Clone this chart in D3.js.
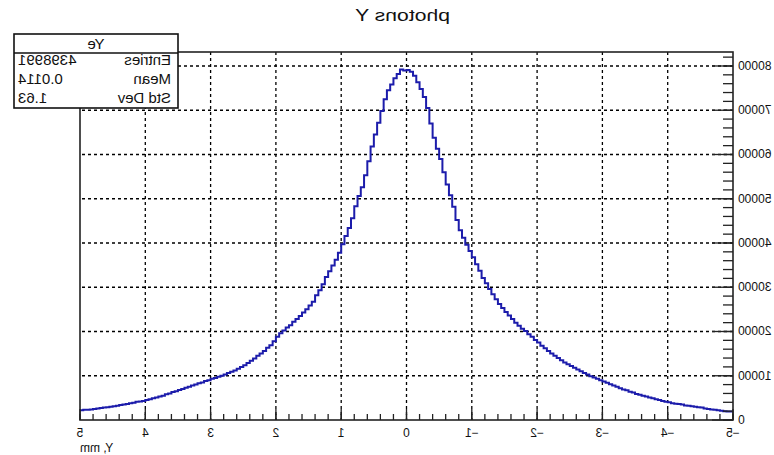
<!DOCTYPE html>
<html>
<head>
<meta charset="utf-8">
<script src="https://cdn.jsdelivr.net/npm/d3@7"></script>
<style>
  html, body { margin: 0; padding: 0; background: #fff; }
  svg { display: block; font-family: "Liberation Sans", Arial, sans-serif; }
</style>
</head>
<body>
<svg id="chart" width="774" height="455"></svg>
<script>
// Histogram "photons Y": 200 bins of 0.05 mm from -5 to 5 mm
const xRange = [-5, 5];
const counts = [
  // -5.00 .. -2.50
  1900, 1900, 2000, 2100, 2200, 2300, 2400, 2500, 2600, 2800,
  2900, 3000, 3100, 3200, 3300, 3500, 3600, 3700, 3800, 4000,
  4100, 4300, 4500, 4700, 4900, 5100, 5300, 5500, 5700, 5900,
  6200, 6400, 6700, 6900, 7200, 7500, 7800, 8100, 8400, 8700,
  9000, 9300, 9600, 9900, 10300, 10600, 11000, 11400, 11800, 12200,
  // -2.50 .. 0.00
  12600, 13000, 13500, 14000, 14500, 15000, 15600, 16200, 16800, 17500,
  18100, 18800, 19400, 20100, 20600, 21300, 22000, 22800, 23600, 24400,
  25300, 26200, 27300, 28400, 29600, 30900, 32100, 33700, 35200, 36800,
  38200, 39600, 41200, 42900, 45200, 48200, 50800, 53200, 56000, 59000,
  61300, 63800, 67000, 70500, 73000, 74800, 76300, 77800, 78700, 79100,
  // 0.00 .. 2.50
  79000, 79200, 78200, 77200, 75800, 74500, 72500, 69800, 67200, 64500,
  61800, 58500, 55300, 52600, 50600, 48300, 45600, 43400, 41600, 39700,
  37800, 36200, 34900, 33600, 32300, 30700, 29300, 28200, 26700, 25900,
  25000, 24300, 23500, 22800, 22200, 21400, 20900, 20200, 19600, 18800,
  17800, 16900, 16300, 15600, 15000, 14500, 13900, 13400, 12900, 12400,
  // 2.50 .. 5.00
  12000, 11600, 11200, 10900, 10600, 10300, 10000, 9800, 9500, 9300,
  9000, 8800, 8500, 8300, 8000, 7800, 7500, 7300, 7000, 6800,
  6500, 6300, 6000, 5800, 5500, 5300, 5100, 4900, 4700, 4500,
  4300, 4200, 4100, 3900, 3800, 3600, 3500, 3400, 3200, 3100,
  3000, 2900, 2800, 2700, 2600, 2500, 2400, 2300, 2300, 2200
];

const xTickValues = [-5, -4, -3, -2, -1, 0, 1, 2, 3, 4, 5];
const yTickValues = [0, 10000, 20000, 30000, 40000, 50000, 60000, 70000, 80000];

const titleText = "photons Y";
const xAxisTitle = "Y, mm";
const statsTitle = "Ye";
const statNames = ["Entries", "Mean", "Std Dev"];
const statValues = ["4398991", "0.0114", "1.63"];

// ---- layout ----
const W = 774, H = 455;
const frame = { left: 41, right: 694, top: 52, bottom: 420 };
const lineColor = "#1c1cab";
const ink = "#111";

const svg = d3.select("#chart");
// The whole canvas is drawn left-right reversed
const root = svg.append("g").attr("transform", `translate(${W},0) scale(-1,1)`);

const nBins = counts.length;
const binW = (xRange[1] - xRange[0]) / nBins;
const x = d3.scaleLinear().domain(xRange).range([frame.left, frame.right]);
const yMax = 1.05 * d3.max(counts);
const y = d3.scaleLinear().domain([0, yMax]).range([frame.bottom, frame.top]);

// grid
const grid = root.append("g")
  .attr("stroke", "#000").attr("stroke-width", 1.3).attr("stroke-dasharray", "3,3");
grid.selectAll("line.v").data(xTickValues.filter(v => v > xRange[0] && v < xRange[1]))
  .join("line").attr("class", "v")
  .attr("x1", d => x(d)).attr("x2", d => x(d))
  .attr("y1", frame.top).attr("y2", frame.bottom);
grid.selectAll("line.h").data(yTickValues.filter(v => v > 0))
  .join("line").attr("class", "h")
  .attr("x1", frame.left).attr("x2", frame.right)
  .attr("y1", d => y(d)).attr("y2", d => y(d));

// histogram outline (steps)
const pts = counts.map((c, i) => [xRange[0] + i * binW, c]);
pts.push([xRange[1], counts[nBins - 1]]);
root.append("path")
  .datum(pts)
  .attr("fill", "none")
  .attr("stroke", lineColor)
  .attr("stroke-width", 2)
  .attr("d", d3.line().x(d => x(d[0])).y(d => y(d[1])).curve(d3.curveStepAfter));

// frame
root.append("rect")
  .attr("x", frame.left).attr("y", frame.top)
  .attr("width", frame.right - frame.left).attr("height", frame.bottom - frame.top)
  .attr("fill", "none").attr("stroke", "#222").attr("stroke-width", 1.6);

// x axis ticks (pointing into the frame)
const xMinor = d3.range(xRange[0], xRange[1] + 1e-9, 0.2);
const axX = root.append("g").attr("stroke", "#222").attr("stroke-width", 1.3);
axX.selectAll("line.minor").data(xMinor).join("line").attr("class", "minor")
  .attr("x1", d => x(d)).attr("x2", d => x(d))
  .attr("y1", frame.bottom).attr("y2", frame.bottom - 6);
axX.selectAll("line.major").data(xTickValues).join("line").attr("class", "major")
  .attr("x1", d => x(d)).attr("x2", d => x(d))
  .attr("y1", frame.bottom).attr("y2", frame.bottom - 11);
root.append("g").selectAll("text").data(xTickValues).join("text")
  .attr("x", d => x(d)).attr("y", 437)
  .attr("text-anchor", "middle").attr("font-size", 12).attr("fill", ink)
  .text(d => d < 0 ? "\u2212" + Math.abs(d) : String(d));

// y axis ticks
const yMinor = d3.range(0, yMax, 2000);
const axY = root.append("g").attr("stroke", "#222").attr("stroke-width", 1.3);
axY.selectAll("line.minor").data(yMinor).join("line").attr("class", "minor")
  .attr("x1", frame.left).attr("x2", frame.left + 10)
  .attr("y1", d => y(d)).attr("y2", d => y(d));
axY.selectAll("line.major").data(yTickValues).join("line").attr("class", "major")
  .attr("x1", frame.left).attr("x2", frame.left + 21)
  .attr("y1", d => y(d)).attr("y2", d => y(d));
root.append("g").selectAll("text").data(yTickValues).join("text")
  .attr("x", frame.left - 5).attr("y", d => y(d) + 4)
  .attr("text-anchor", "end").attr("font-size", 12).attr("fill", ink)
  .text(d => String(d));

// axis title
root.append("text")
  .attr("x", frame.right).attr("y", 452)
  .attr("text-anchor", "end").attr("font-size", 12).attr("fill", ink)
  .text(xAxisTitle);

// plot title
root.append("text")
  .attr("x", 371.5).attr("y", 21)
  .attr("text-anchor", "middle").attr("font-size", 16).attr("fill", ink)
  .attr("textLength", 95).attr("lengthAdjust", "spacingAndGlyphs")
  .text(titleText);

// statistics box
const box = { left: 596, right: 760, top: 34, sep: 53, bottom: 108 };
const sb = root.append("g");
sb.append("rect")
  .attr("x", box.left).attr("y", box.top)
  .attr("width", box.right - box.left).attr("height", box.bottom - box.top)
  .attr("fill", "#fff").attr("stroke", "#111").attr("stroke-width", 1.6);
sb.append("line")
  .attr("x1", box.left).attr("x2", box.right).attr("y1", box.sep).attr("y2", box.sep)
  .attr("stroke", "#111").attr("stroke-width", 1.6);
sb.append("text")
  .attr("x", (box.left + box.right) / 2).attr("y", 49)
  .attr("text-anchor", "middle").attr("font-size", 15).attr("fill", ink)
  .text(statsTitle);
const rowY = [65, 84, 103];
sb.selectAll("text.name").data(statNames).join("text").attr("class", "name")
  .attr("x", box.left + 7).attr("y", (d, i) => rowY[i])
  .attr("font-size", 15).attr("fill", ink).text(d => d);
sb.selectAll("text.val").data(statValues).join("text").attr("class", "val")
  .attr("x", box.right - 4).attr("y", (d, i) => rowY[i])
  .attr("text-anchor", "end").attr("font-size", 15).attr("fill", ink).text(d => d);
</script>
</body>
</html>
